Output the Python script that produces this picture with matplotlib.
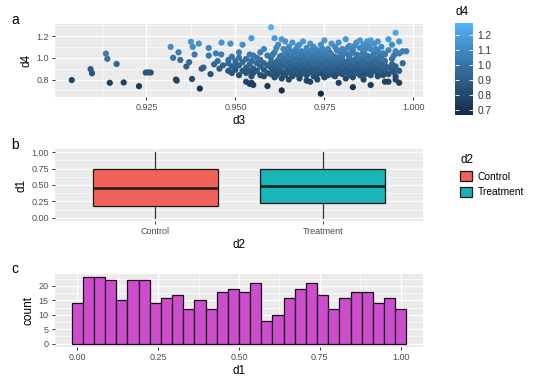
import matplotlib
matplotlib.use("Agg")
import matplotlib.pyplot as plt
import numpy as np
from matplotlib.colors import LinearSegmentedColormap
from matplotlib.patches import Patch
from matplotlib.ticker import MultipleLocator, FixedLocator

plt.rcParams['font.family'] = ['Liberation Sans', 'DejaVu Sans']

# ---- panel a: scatter d3 vs d4 ----
d3 = [0.9040, 0.9093, 0.9097, 0.9136, 0.9140, 0.9147, 0.9166, 0.9186, 0.9229,
      0.9248, 0.9255, 0.9262, 0.9318, 0.9325, 0.9333, 0.9335, 0.9340, 0.9345,
      0.9362, 0.9370, 0.9375, 0.9380, 0.9385, 0.9378, 0.9397, 0.9400, 0.9405,
      0.9410, 0.9425, 0.9425, 0.9430, 0.9440, 0.9445, 0.9450, 0.9455, 0.9460,
      0.9465, 0.9461,
      0.948, 0.948, 0.948, 0.949, 0.949, 0.949, 0.9486, 0.950, 0.950, 0.950,
      0.951, 0.951, 0.951, 0.951, 0.952, 0.952, 0.952,
      0.953, 0.953, 0.953, 0.953, 0.954, 0.954, 0.954, 0.954,
      0.9545, 0.9545, 0.9545, 0.955, 0.955, 0.955, 0.955,
      0.9545, 0.956, 0.956, 0.956, 0.957, 0.957, 0.957, 0.957,
      0.958, 0.958, 0.958, 0.958, 0.959, 0.959, 0.959, 0.959,
      0.960, 0.960, 0.960, 0.960, 0.960,
      0.961, 0.961, 0.961, 0.961, 0.961,
      0.962, 0.962, 0.962, 0.962, 0.962,
      0.963, 0.963, 0.963, 0.963, 0.963, 0.963,
      0.964, 0.964, 0.964, 0.964, 0.964,
      0.965, 0.965, 0.965, 0.965, 0.965,
      0.966, 0.966, 0.966, 0.966, 0.966, 0.966,
      0.967, 0.967, 0.967, 0.967, 0.967,
      0.968, 0.968, 0.968, 0.968, 0.968, 0.968,
      0.969, 0.969, 0.969, 0.969, 0.969,
      0.970, 0.970, 0.970, 0.970, 0.970, 0.970, 0.970,
      0.971, 0.971, 0.971, 0.971, 0.971, 0.971,
      0.972, 0.972, 0.972, 0.972, 0.972, 0.972,
      0.973, 0.973, 0.973, 0.973, 0.973, 0.973,
      0.974, 0.974, 0.974, 0.974, 0.974, 0.974,
      0.975, 0.975, 0.975, 0.975, 0.975, 0.975,
      0.976, 0.976, 0.976, 0.976, 0.976, 0.976,
      0.977, 0.977, 0.977, 0.977, 0.977, 0.977,
      0.978, 0.978, 0.978, 0.978, 0.978, 0.978,
      0.979, 0.979, 0.979, 0.979, 0.979, 0.979,
      0.980, 0.980, 0.980, 0.980, 0.980, 0.980,
      0.981, 0.981, 0.981, 0.981, 0.981, 0.981,
      0.982, 0.982, 0.982, 0.982, 0.982, 0.982,
      0.983, 0.983, 0.983, 0.983, 0.983, 0.983,
      0.984, 0.984, 0.984, 0.984, 0.984, 0.984,
      0.985, 0.985, 0.985, 0.985, 0.985, 0.985,
      0.986, 0.986, 0.986, 0.986, 0.986, 0.986,
      0.987, 0.987, 0.987, 0.987, 0.987,
      0.988, 0.988, 0.988, 0.988, 0.988, 0.988,
      0.989, 0.989, 0.989, 0.989, 0.989,
      0.990, 0.990, 0.990, 0.990, 0.990, 0.990,
      0.991, 0.991, 0.991, 0.991, 0.991,
      0.992, 0.992, 0.992, 0.992, 0.992,
      0.993, 0.993, 0.993, 0.993, 0.993,
      0.994, 0.994, 0.994, 0.994,
      0.995, 0.995, 0.995, 0.995, 0.995,
      0.996, 0.996, 0.996, 0.996,
      0.997, 0.997, 0.998,
      0.9605, 0.9605, 0.9605, 0.9615, 0.9615, 0.9615, 0.9625, 0.9625, 0.9625,
      0.9635, 0.9635, 0.9635, 0.9645, 0.9645, 0.9645, 0.9655, 0.9655, 0.9655,
      0.9665, 0.9665, 0.9665, 0.9675, 0.9675, 0.9675, 0.9685, 0.9685, 0.9685,
      0.9695, 0.9695, 0.9695, 0.9705, 0.9705, 0.9705, 0.9715, 0.9715, 0.9715,
      0.9725, 0.9725, 0.9725, 0.9735, 0.9735, 0.9735, 0.9745, 0.9745, 0.9745,
      0.9755, 0.9755, 0.9755, 0.9765, 0.9765, 0.9765, 0.9775, 0.9775, 0.9775,
      0.9785, 0.9785, 0.9785, 0.9795, 0.9795, 0.9795, 0.9805, 0.9805, 0.9805,
      0.9815, 0.9815, 0.9815, 0.9825, 0.9825, 0.9825, 0.9835, 0.9835, 0.9835,
      0.9845, 0.9845, 0.9845, 0.9855, 0.9855, 0.9855, 0.9865, 0.9865, 0.9865,
      0.9875, 0.9875, 0.9875, 0.9885, 0.9885, 0.9885, 0.9895, 0.9895, 0.9895,
      0.9905, 0.9905, 0.9905, 0.9915, 0.9915, 0.9915, 0.9945, 0.9945]
d4 = [0.795, 0.896, 0.858, 1.038, 0.990, 0.770, 0.943, 0.773, 0.739,
      0.864, 0.866, 0.864, 1.100, 1.000, 0.800, 0.790, 1.050, 0.980,
      0.920, 0.960, 1.147, 1.100, 1.030, 0.805, 1.130, 0.717, 0.900,
      0.910, 1.090, 1.020, 0.850, 0.940, 1.040, 0.970, 0.900, 1.030,
      0.930, 1.140,
      0.98, 0.88, 0.95, 1.01, 0.92, 0.86, 1.13, 0.97, 0.89, 0.94,
      0.84, 0.93, 1.00, 1.05, 1.12, 0.96, 0.88,
      0.78, 0.91, 0.99, 0.86, 0.76, 0.94, 1.03, 0.88,
      0.77, 0.97, 0.83, 1.02, 0.90, 0.86, 0.75,
      1.18, 0.95, 0.88, 1.00, 0.92, 0.84, 1.05, 0.98,
      0.83, 1.08, 0.95, 0.89, 0.93, 1.02, 0.86, 0.74,
      1.28, 1.00, 0.91, 0.85, 0.96,
      1.18, 0.88, 1.05, 0.94, 0.82,
      0.98, 0.90, 1.12, 0.86, 0.93,
      0.70, 1.17, 1.02, 0.95, 0.87, 0.81,
      1.15, 0.92, 0.99, 0.84, 1.06,
      0.89, 1.03, 0.96, 0.80, 1.10,
      0.93, 0.87, 1.00, 1.14, 0.83, 0.97,
      1.08, 0.91, 0.85, 1.01, 0.95,
      0.98, 1.12, 0.88, 0.94, 0.81, 1.04,
      0.86, 1.02, 0.92, 0.97, 1.15,
      0.79, 0.95, 1.06, 0.89, 0.99, 0.84, 1.09,
      0.92, 1.13, 0.87, 1.01, 0.78, 0.96,
      1.04, 0.90, 0.83, 0.97, 1.10, 0.94,
      0.88, 1.00, 0.93, 1.07, 0.85, 0.80,
      0.67, 0.96, 1.12, 0.91, 1.02, 0.86,
      0.99, 0.89, 1.05, 0.94, 0.82, 1.16,
      0.92, 1.08, 0.87, 1.00, 0.97, 0.84,
      1.13, 0.95, 0.90, 1.03, 0.86, 0.98,
      0.88, 1.01, 0.93, 1.10, 0.83, 0.96,
      0.77, 0.97, 1.06, 0.91, 0.86, 1.14,
      0.94, 1.02, 0.89, 0.99, 0.85, 1.08,
      1.17, 0.92, 0.96, 0.87, 1.04, 0.81,
      0.99, 0.90, 1.11, 0.95, 0.84, 1.01,
      0.73, 0.93, 1.07, 0.88, 0.97, 0.82,
      1.03, 0.91, 0.86, 1.14, 0.96, 0.99,
      0.94, 1.09, 0.89, 1.00, 0.84, 1.16,
      0.87, 0.98, 1.05, 0.92, 1.12, 0.80,
      1.15, 0.95, 0.90, 1.02, 0.86,
      0.75, 0.97, 1.08, 0.91, 0.84, 1.16,
      1.00, 0.88, 1.13, 0.94, 1.04,
      0.92, 0.86, 1.06, 0.98, 1.15, 0.83,
      1.01, 0.90, 0.95, 1.10, 0.87,
      0.78, 0.93, 1.03, 0.88, 0.97,
      0.78, 1.07, 0.91, 0.85, 1.17,
      0.99, 0.89, 1.12, 0.94,
      1.23, 1.06, 0.83, 0.80, 0.92,
      0.77, 0.88, 1.04, 1.15,
      1.06, 0.95, 1.06,
      0.90, 1.03, 0.87, 0.96, 1.09, 0.84, 1.01, 0.89, 0.92,
      0.97, 1.08, 0.85, 0.88, 1.01, 0.94, 1.06, 0.92, 0.86,
      0.90, 1.04, 0.98, 0.99, 0.87, 1.11, 0.91, 1.06, 0.85,
      1.00, 0.88, 0.94, 1.03, 0.93, 0.86, 0.89, 0.98, 1.07,
      0.95, 0.87, 1.01, 1.04, 0.90, 0.97, 0.93, 0.85, 1.08,
      0.87, 1.02, 0.96, 1.05, 0.94, 0.89, 0.92, 1.00, 0.84,
      0.98, 1.07, 0.90, 0.89, 1.01, 0.95, 1.05, 0.92, 0.87,
      0.95, 0.88, 1.09, 1.04, 0.92, 0.86, 0.98, 1.11, 0.89,
      0.87, 1.01, 0.93, 1.03, 0.96, 0.90, 0.94, 1.08, 0.85,
      1.00, 0.89, 1.11, 0.93, 1.02, 0.87, 0.97, 0.90, 1.08,
      1.01, 0.88, 0.94, 0.92, 1.04, 0.84, 1.02, 0.87]

# ---- panel b: box plot of d1 by d2 ----
groups = ['Control', 'Treatment']
box_low = [0.00, 0.00]
box_q1 = [0.18, 0.22]
box_med = [0.46, 0.48]
box_q3 = [0.74, 0.74]
box_high = [1.00, 1.00]
box_colors = ['#F0625A', '#19B4B6']

# ---- panel c: histogram of d1 (30 bins) ----
hist_counts = [14, 23, 23, 22, 15, 22, 22, 14, 16, 17, 12, 15, 12, 18, 19,
               18, 21, 8, 10, 16, 19, 21, 17, 12, 16, 18, 18, 14, 16, 12]
bin_start = -1 / 58
bin_width = 1 / 29

W, H = 540, 386
fig = plt.figure(figsize=(W / 100, H / 100), dpi=100)

def px_axes(x0, y0, x1, y1):
    return fig.add_axes([x0 / W, 1 - y1 / H, (x1 - x0) / W, (y1 - y0) / H])

def gg_style(ax):
    ax.set_facecolor('#EBEBEB')
    for s in ax.spines.values():
        s.set_visible(False)
    ax.grid(True, which='major', color='white', linewidth=0.9)
    ax.grid(True, which='minor', color='white', linewidth=0.45)
    ax.set_axisbelow(True)
    ax.tick_params(which='major', length=2.5, width=0.7, color='#333333',
                   labelsize=6.5, labelcolor='#4D4D4D', pad=2)
    ax.tick_params(which='minor', length=0)

fs_lab = 8.5
fs_letter = 10

# panel a
ax1 = px_axes(55, 24, 423, 97)
gg_style(ax1)
cmap = LinearSegmentedColormap.from_list('gg', ['#132B43', '#56B1F7'])
d4_arr = np.array(d4)
sc = ax1.scatter(d3, d4, c=d4, cmap=cmap, s=20, linewidths=0,
                 vmin=d4_arr.min(), vmax=d4_arr.max())
ax1.set_xlim(0.8993, 1.0027)
ax1.set_ylim(0.6395, 1.3105)
ax1.xaxis.set_major_locator(FixedLocator([0.925, 0.95, 0.975, 1.0]))
ax1.set_xticklabels(['0.925', '0.950', '0.975', '1.000'])
ax1.xaxis.set_minor_locator(FixedLocator([0.9125, 0.9375, 0.9625, 0.9875]))
ax1.yaxis.set_major_locator(FixedLocator([0.8, 1.0, 1.2]))
ax1.set_yticklabels(['0.8', '1.0', '1.2'])
ax1.yaxis.set_minor_locator(FixedLocator([0.7, 0.9, 1.1, 1.3]))
ax1.set_xlabel('d3', fontsize=fs_lab, labelpad=2)
ax1.set_ylabel('d4', fontsize=fs_lab, labelpad=3)

cax = px_axes(455, 23, 473, 115)
cb = fig.colorbar(sc, cax=cax)
cb.outline.set_visible(False)
cb.set_ticks([0.7, 0.8, 0.9, 1.0, 1.1, 1.2])
cax.tick_params(direction='in', color='white', length=3, width=0.6,
                left=True, right=True, labelsize=7.3, labelcolor='#333333', pad=3)
fig.text(455 / W, 1 - 12 / H, 'd4', fontsize=8.5, va='center', ha='left')

# panel b
ax2 = px_axes(55, 149, 423, 221)
gg_style(ax2)
stats = []
for i, g in enumerate(groups):
    stats.append(dict(label=g, whislo=box_low[i], q1=box_q1[i], med=box_med[i],
                      q3=box_q3[i], whishi=box_high[i], fliers=[]))
bp = ax2.bxp(stats, positions=[1, 2], widths=0.75, patch_artist=True,
             showcaps=False,
             boxprops=dict(edgecolor='#1A1A1A', linewidth=0.9),
             medianprops=dict(color='#1A1A1A', linewidth=1.8),
             whiskerprops=dict(color='#333333', linewidth=0.9))
for patch, col in zip(bp['boxes'], box_colors):
    patch.set_facecolor(col)
ax2.set_xlim(0.4, 2.6)
ax2.set_ylim(-0.05, 1.05)
ax2.yaxis.set_major_locator(FixedLocator([0, 0.25, 0.5, 0.75, 1.0]))
ax2.set_yticklabels(['0.00', '0.25', '0.50', '0.75', '1.00'])
ax2.yaxis.set_minor_locator(FixedLocator([0.125, 0.375, 0.625, 0.875]))
ax2.set_xticks([1, 2])
ax2.set_xticklabels(groups)
ax2.xaxis.grid(True, which='major', color='white', linewidth=0.9)
ax2.set_xlabel('d2', fontsize=fs_lab, labelpad=2)
ax2.set_ylabel('d1', fontsize=fs_lab, labelpad=3)

handles = [Patch(facecolor=c, edgecolor='#1A1A1A', linewidth=0.9) for c in box_colors]
fig.legend(handles, groups, title='d2', loc='upper left',
           bbox_to_anchor=(451 / W, 1 - 145 / H), frameon=False,
           fontsize=7.4, title_fontsize=8.5, handlelength=1.1, handleheight=1.1,
           labelspacing=0.5, handletextpad=0.6, alignment='left')

# panel c
ax3 = px_axes(55, 274, 423, 347)
gg_style(ax3)
centers = [bin_start + bin_width * (i + 0.5) for i in range(len(hist_counts))]
ax3.bar(centers, hist_counts, width=bin_width, color='#CC4ECC',
        edgecolor='#1E0A1E', linewidth=0.9)
ax3.set_xlim(-0.069, 1.069)
ax3.set_ylim(-1.15, 24.15)
ax3.xaxis.set_major_locator(FixedLocator([0, 0.25, 0.5, 0.75, 1.0]))
ax3.set_xticklabels(['0.00', '0.25', '0.50', '0.75', '1.00'])
ax3.xaxis.set_minor_locator(FixedLocator([0.125, 0.375, 0.625, 0.875]))
ax3.yaxis.set_major_locator(MultipleLocator(5))
ax3.yaxis.set_minor_locator(FixedLocator([2.5, 7.5, 12.5, 17.5, 22.5]))
ax3.set_xlabel('d1', fontsize=fs_lab, labelpad=2)
ax3.set_ylabel('count', fontsize=fs_lab, labelpad=3)

for letter, y in [('a', 20), ('b', 145), ('c', 269)]:
    fig.text(15 / W, 1 - y / H, letter, fontsize=fs_letter, ha='center', va='center')

fig.savefig('out.png', dpi=100)
